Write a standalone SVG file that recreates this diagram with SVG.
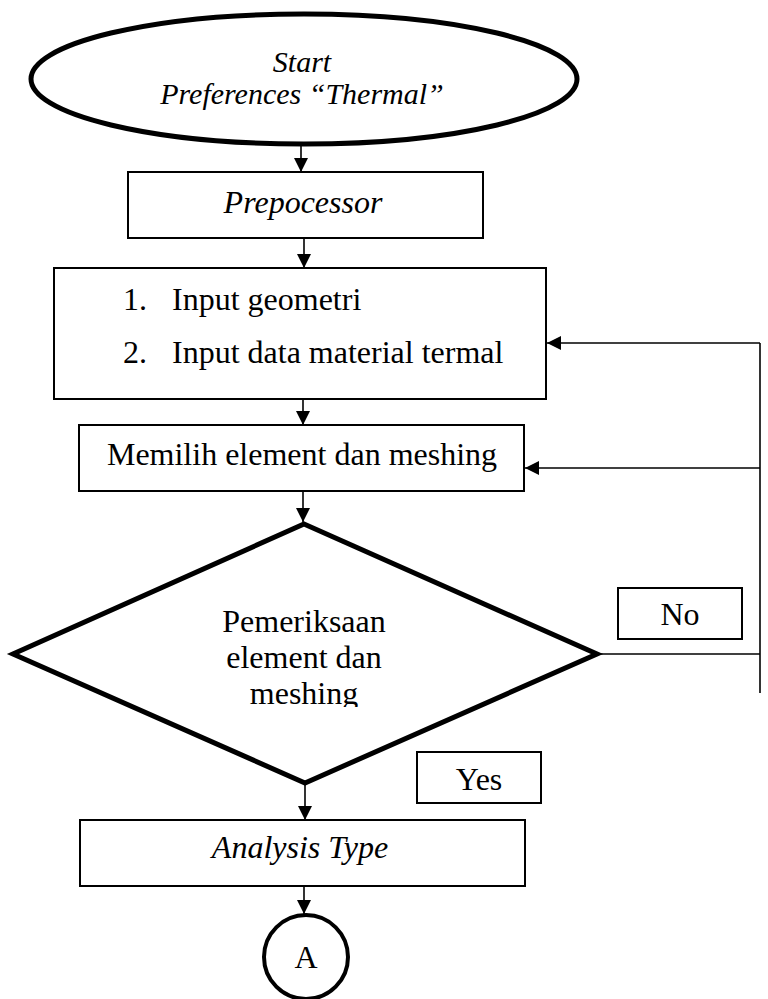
<svg xmlns="http://www.w3.org/2000/svg" width="768" height="999" viewBox="0 0 768 999">
  <style>
    .box { fill: #fff; stroke: #000; stroke-width: 2; }
    .bold { fill: #fff; stroke: #000; stroke-width: 5; }
    .line { fill: none; stroke: #000; stroke-width: 1.6; }
    .t { font-family: "Liberation Serif", "Times New Roman", serif; font-size: 32px; fill: #000; }
    .c { text-anchor: middle; }
    .i { font-style: italic; }
    .s { font-size: 30px; }
  </style>
  <defs>
    <marker id="arrow" viewBox="0 0 14 14" refX="14" refY="7" markerWidth="14" markerHeight="14" markerUnits="userSpaceOnUse" orient="auto">
      <path d="M0,0 L14,7 L0,14 Z" fill="#000"/>
    </marker>
    <clipPath id="diamondText">
      <rect x="150" y="590" width="310" height="117"/>
    </clipPath>
  </defs>

  <rect width="768" height="999" fill="#fff"/>

  <g id="connectors">
    <line class="line" x1="301" y1="145" x2="301" y2="172" marker-end="url(#arrow)"/>
    <line class="line" x1="304" y1="238" x2="304" y2="268" marker-end="url(#arrow)"/>
    <line class="line" x1="303" y1="399" x2="303" y2="425" marker-end="url(#arrow)"/>
    <line class="line" x1="303" y1="491" x2="303" y2="522" marker-end="url(#arrow)"/>
    <line class="line" x1="305" y1="783" x2="305" y2="820" marker-end="url(#arrow)"/>
    <line class="line" x1="304" y1="886" x2="304" y2="914" marker-end="url(#arrow)"/>
    <!-- "No" branch back to the input steps -->
    <polyline class="line" points="597,654 760,654"/>
    <line class="line" x1="760" y1="343" x2="760" y2="693"/>
    <line class="line" x1="760" y1="343" x2="547" y2="343" marker-end="url(#arrow)"/>
    <line class="line" x1="760" y1="468" x2="525" y2="468" marker-end="url(#arrow)"/>
  </g>

  <g id="start">
    <ellipse class="bold" cx="304" cy="79" rx="273" ry="65"/>
    <text class="t s c i" x="302" y="72">Start</text>
    <text class="t s c i" x="302" y="104">Preferences “Thermal”</text>
  </g>

  <g id="prepocessor">
    <rect class="box" x="128" y="172" width="355" height="66"/>
    <text class="t c i" x="303" y="213">Prepocessor</text>
  </g>

  <g id="input">
    <rect class="box" x="54" y="268" width="492" height="131"/>
    <text class="t" x="123" y="310">1.</text>
    <text class="t" x="172" y="310">Input geometri</text>
    <text class="t" x="123" y="363">2.</text>
    <text class="t" x="172" y="363">Input data material termal</text>
  </g>

  <g id="meshing">
    <rect class="box" x="79" y="425" width="445" height="66"/>
    <text class="t c" x="302" y="465">Memilih element dan meshing</text>
  </g>

  <g id="check">
    <polygon class="bold" points="304,524 597,654 305,783 13,654"/>
    <g clip-path="url(#diamondText)">
      <text class="t c" x="304" y="632">Pemeriksaan</text>
      <text class="t c" x="304" y="668">element dan</text>
      <text class="t c" x="304" y="704">meshing</text>
    </g>
  </g>

  <g id="label-no">
    <rect class="box" x="618" y="588" width="124" height="51"/>
    <text class="t c" x="680" y="625">No</text>
  </g>

  <g id="label-yes">
    <rect class="box" x="417" y="752" width="124" height="51"/>
    <text class="t c" x="479" y="790">Yes</text>
  </g>

  <g id="analysis">
    <rect class="box" x="80" y="820" width="445" height="66"/>
    <text class="t c i" x="300" y="858">Analysis Type</text>
  </g>

  <g id="connector-a">
    <circle class="bold" cx="306" cy="957" r="42" style="stroke-width:4"/>
    <text class="t c" x="306" y="968">A</text>
  </g>
</svg>
